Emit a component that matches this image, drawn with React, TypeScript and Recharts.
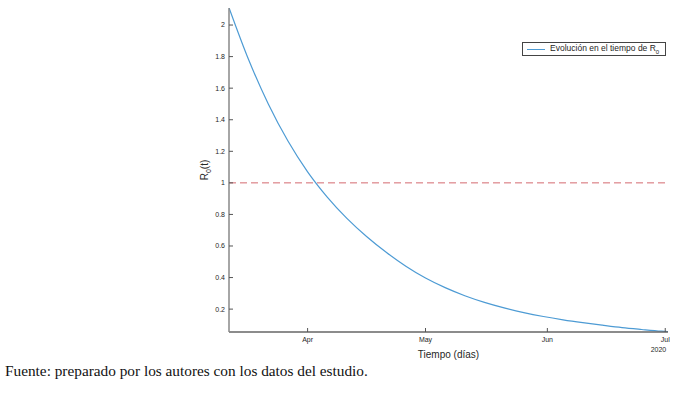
import React from "react";
import { LineChart, Line, XAxis, YAxis, ReferenceLine, Label } from "recharts";

// days counted from 12 Mar 2020
const days = [0, 5, 10, 15, 20, 25, 30, 35, 40, 45, 50, 55, 60, 65, 70, 75, 80, 85, 90, 95, 100, 105, 110, 111.7];
const r0Values = [2.11, 1.78, 1.5, 1.265, 1.07, 0.91, 0.775, 0.66, 0.56, 0.472, 0.397, 0.336, 0.285, 0.243, 0.208, 0.178, 0.153, 0.132, 0.114, 0.098, 0.083, 0.071, 0.06, 0.057];

const monthTicks = [20, 50, 81, 111];
const monthLabels = ["Apr", "May", "Jun", "Jul"];
const yearLabel = "2020";
const yTicks = [0.2, 0.4, 0.6, 0.8, 1, 1.2, 1.4, 1.6, 1.8, 2];
const threshold = 1;
const seriesName = "Evolución en el tiempo de R";
const footnote = "Fuente: preparado por los autores con los datos del estudio.";

const data = days.map((d, i) => ({ day: d, r0: r0Values[i] }));

const FONT = "'Liberation Sans', Arial, sans-serif";
const TXT = "#262626";

const LeftTick = (props: any) => {
  const { x, y, payload } = props;
  return (
    <g>
      <line x1={x + 4} x2={x + 8} y1={y} y2={y} stroke="#555" />
      <text x={x} y={y} dy="0.35em" textAnchor="end" fontSize={7} fontFamily={FONT} fill={TXT}>
        {payload.value}
      </text>
    </g>
  );
};

const RightTick = (props: any) => {
  const { x, y } = props;
  return <line x1={x - 4} x2={x} y1={y} y2={y} stroke="#555" />;
};

const TopTick = (props: any) => {
  const { x, y } = props;
  return <line x1={x} x2={x} y1={y} y2={y + 4} stroke="#555" />;
};

const BottomTick = (props: any) => {
  const { x, y, payload, index } = props;
  const idx = monthTicks.indexOf(payload.value);
  return (
    <g>
      <line x1={x} x2={x} y1={y - 5} y2={y - 9} stroke="#555" />
      <text x={x} y={y} dy="0.71em" textAnchor="middle" fontSize={7} fontFamily={FONT} fill={TXT}>
        {monthLabels[idx >= 0 ? idx : index]}
      </text>
      {idx === monthTicks.length - 1 && (
        <text x={x + 1} y={y + 10} dy="0.71em" textAnchor="end" fontSize={7} fontFamily={FONT} fill={TXT}>
          {yearLabel}
        </text>
      )}
    </g>
  );
};

const YLabel = (props: any) => {
  const { viewBox } = props;
  const cx = viewBox.x + 19;
  const cy = viewBox.y + viewBox.height / 2;
  return (
    <text
      x={cx}
      y={cy}
      transform={`rotate(-90, ${cx}, ${cy})`}
      textAnchor="middle"
      fontSize={10}
      fontFamily={FONT}
      fill={TXT}
    >
      R<tspan fontSize={7} dy={3}>0</tspan>
      <tspan dy={-3}>(t)</tspan>
    </text>
  );
};

export default function App() {
  return (
    <div style={{ position: "absolute", left: 0, top: 0, width: 681, height: 394, background: "#fff" }}>
      <LineChart width={681} height={394} data={data} margin={{ top: 8, right: 13, bottom: 32, left: 189 }}>
        <XAxis
          dataKey="day"
          type="number"
          domain={[0, 111.7]}
          allowDataOverflow
          ticks={monthTicks}
          tick={<BottomTick />}
          tickSize={0}
          tickMargin={5}
          height={30}
          axisLine={{ stroke: "#666", strokeWidth: 1.5 }}
        >
          <Label value="Tiempo (días)" position="insideBottom" offset={4} fontSize={10} fontFamily={FONT} fill={TXT} />
        </XAxis>
        <XAxis
          xAxisId="top"
          orientation="top"
          type="number"
          dataKey="day"
          domain={[0, 111.7]}
          allowDataOverflow
          ticks={monthTicks}
          tick={<TopTick />}
          tickSize={0}
          tickMargin={0}
          height={0}
          axisLine={{ stroke: "#444", strokeWidth: 1 }}
        />
        <YAxis
          type="number"
          domain={[0.055, 2.108]}
          allowDataOverflow
          ticks={yTicks}
          tick={<LeftTick />}
          tickSize={0}
          tickMargin={4}
          width={40}
          axisLine={{ stroke: "#888", strokeWidth: 1.5 }}
        >
          <Label content={<YLabel />} />
        </YAxis>
        <YAxis
          yAxisId="right"
          orientation="right"
          type="number"
          domain={[0.055, 2.108]}
          allowDataOverflow
          ticks={yTicks}
          tick={<RightTick />}
          tickSize={0}
          tickMargin={0}
          width={0}
          axisLine={{ stroke: "#999", strokeWidth: 1 }}
        />
        <ReferenceLine y={threshold} stroke="#d46a70" strokeWidth={1} strokeDasharray="7 4" />
        <Line
          type="monotone"
          dataKey="r0"
          stroke="#4d9bd4"
          strokeWidth={1.2}
          dot={false}
          isAnimationActive={false}
        />
      </LineChart>
      <div
        style={{
          position: "absolute",
          left: 522,
          top: 42,
          width: 144,
          height: 14,
          boxSizing: "border-box",
          border: "1px solid #444",
          background: "#fff",
          display: "flex",
          alignItems: "center",
          fontFamily: FONT,
          fontSize: 8.5,
          color: TXT,
          whiteSpace: "nowrap",
        }}
      >
        <span style={{ display: "inline-block", width: 18, height: 0, borderTop: "1px solid #4d9bd4", marginLeft: 4, marginRight: 5 }} />
        <span>
          {seriesName}
          <sub style={{ fontSize: 6 }}>0</sub>
        </span>
      </div>
      <div
        style={{
          position: "absolute",
          left: 5,
          top: 362,
          fontFamily: "'Liberation Serif', 'Times New Roman', serif",
          fontSize: 15.3,
          lineHeight: "17px",
          color: "#111",
          whiteSpace: "nowrap",
        }}
      >
        {footnote}
      </div>
    </div>
  );
}
